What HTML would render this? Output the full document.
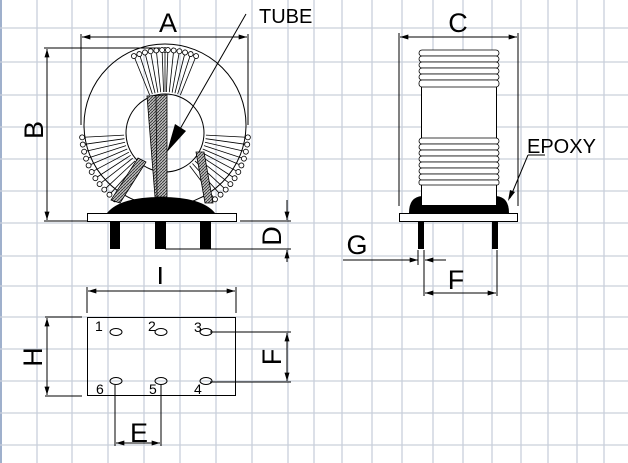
<!DOCTYPE html>
<html><head><meta charset="utf-8"><style>
html,body{margin:0;padding:0;background:#fff;}
svg{display:block;}
text{font-family:"Liberation Sans",Arial,sans-serif;fill:#000;}
</style></head><body>
<svg width="628" height="463" viewBox="0 0 628 463" xmlns="http://www.w3.org/2000/svg">
<defs>
<pattern id="h" width="3" height="3" patternUnits="userSpaceOnUse">
<rect width="3" height="3" fill="#bbb"/><path d="M0 3L3 0" stroke="#333" stroke-width="0.9"/>
</pattern>
<marker id="ar" viewBox="0 0 10 6" refX="10" refY="3" markerWidth="10" markerHeight="5" orient="auto-start-reverse" markerUnits="userSpaceOnUse"><path d="M0 0L10 3L0 6z" fill="#000"/></marker>
</defs>
<rect width="628" height="463" fill="#fff"/>
<g stroke="#c9d0db" stroke-width="1.3">
<line x1="1" y1="0" x2="1" y2="463" stroke="#9fb0cc" stroke-width="2"/>
<line x1="37" y1="0" x2="37" y2="463"/><line x1="72" y1="0" x2="72" y2="463"/><line x1="108" y1="0" x2="108" y2="463"/><line x1="144" y1="0" x2="144" y2="463"/><line x1="180" y1="0" x2="180" y2="463"/><line x1="216" y1="0" x2="216" y2="463"/><line x1="252" y1="0" x2="252" y2="463"/><line x1="288" y1="0" x2="288" y2="463"/><line x1="314" y1="0" x2="314" y2="463"/><line x1="342" y1="0" x2="342" y2="463"/><line x1="372" y1="0" x2="372" y2="463"/><line x1="402" y1="0" x2="402" y2="463"/><line x1="433" y1="0" x2="433" y2="463"/><line x1="463" y1="0" x2="463" y2="463"/><line x1="492" y1="0" x2="492" y2="463"/><line x1="521" y1="0" x2="521" y2="463"/><line x1="548" y1="0" x2="548" y2="463"/><line x1="577" y1="0" x2="577" y2="463"/><line x1="604" y1="0" x2="604" y2="463"/>
<line x1="0" y1="28" x2="628" y2="28"/><line x1="0" y1="62" x2="628" y2="62"/><line x1="0" y1="95" x2="628" y2="95"/><line x1="0" y1="127" x2="628" y2="127"/><line x1="0" y1="159" x2="628" y2="159"/><line x1="0" y1="191" x2="628" y2="191"/><line x1="0" y1="223" x2="628" y2="223"/><line x1="0" y1="256" x2="628" y2="256"/><line x1="0" y1="286" x2="628" y2="286"/><line x1="0" y1="317" x2="628" y2="317"/><line x1="0" y1="349" x2="628" y2="349"/><line x1="0" y1="381" x2="628" y2="381"/><line x1="0" y1="413" x2="628" y2="413"/><line x1="0" y1="445" x2="628" y2="445"/>
</g>

<g stroke="#000" fill="none" stroke-width="1">
<line x1="81" y1="34" x2="81" y2="125"/><line x1="248" y1="34" x2="248" y2="125"/>
<line x1="82" y1="37" x2="247" y2="37" marker-start="url(#ar)" marker-end="url(#ar)"/>
<line x1="44" y1="48" x2="160" y2="48"/><line x1="44" y1="221" x2="90" y2="221"/>
<line x1="47" y1="49" x2="47" y2="220" marker-start="url(#ar)" marker-end="url(#ar)"/>
<circle cx="165" cy="125" r="81"/>
<circle cx="165" cy="133" r="39"/>
</g>
<g stroke="#000" stroke-width="0.8" fill="#fff">
<g id="wt">
<line x1="165" y1="92" x2="165" y2="49"/><circle cx="165" cy="50" r="2.5"/>
</g>
<use href="#wt" transform="rotate(-22 165 133)"/><use href="#wt" transform="rotate(-18 165 133)"/><use href="#wt" transform="rotate(-14 165 133)"/><use href="#wt" transform="rotate(-10 165 133)"/><use href="#wt" transform="rotate(-6 165 133)"/><use href="#wt" transform="rotate(-2 165 133)"/><use href="#wt" transform="rotate(2 165 133)"/><use href="#wt" transform="rotate(6 165 133)"/><use href="#wt" transform="rotate(10 165 133)"/><use href="#wt" transform="rotate(14 165 133)"/><use href="#wt" transform="rotate(18 165 133)"/><use href="#wt" transform="rotate(22 165 133)"/>
<use href="#wt" transform="rotate(-93 165 133)"/><use href="#wt" transform="rotate(-98 165 133)"/><use href="#wt" transform="rotate(-103 165 133)"/><use href="#wt" transform="rotate(-108 165 133)"/><use href="#wt" transform="rotate(-113 165 133)"/><use href="#wt" transform="rotate(-118 165 133)"/><use href="#wt" transform="rotate(-123 165 133)"/><use href="#wt" transform="rotate(-128 165 133)"/><use href="#wt" transform="rotate(-133 165 133)"/><use href="#wt" transform="rotate(-138 165 133)"/><use href="#wt" transform="rotate(-143 165 133)"/>
<use href="#wt" transform="rotate(93 165 133)"/><use href="#wt" transform="rotate(98 165 133)"/><use href="#wt" transform="rotate(103 165 133)"/><use href="#wt" transform="rotate(108 165 133)"/><use href="#wt" transform="rotate(113 165 133)"/><use href="#wt" transform="rotate(118 165 133)"/><use href="#wt" transform="rotate(123 165 133)"/><use href="#wt" transform="rotate(128 165 133)"/><use href="#wt" transform="rotate(133 165 133)"/><use href="#wt" transform="rotate(138 165 133)"/><use href="#wt" transform="rotate(143 165 133)"/>
</g>
<g stroke="#000" stroke-width="0.8" fill="url(#h)">
<polygon points="147,96 167,95 167,197 155,197"/>
<line x1="156" y1="96" x2="157" y2="197"/>
<polygon points="138,158 146,162 120,203 111,200"/>
<polygon points="196,152 204,152 213,203 205,203"/>
</g>
<line x1="246" y1="14" x2="168" y2="150" stroke="#000" stroke-width="1"/>
<polygon points="167,152 175,124 186,131" fill="#000"/>
<path d="M107 213 Q120 197 161 197 Q202 197 215 213 Z" fill="#000"/>
<rect x="87.5" y="213.5" width="149" height="8" fill="#fff" stroke="#000"/>
<rect x="110" y="222" width="10" height="27" fill="#000"/>
<rect x="155" y="222" width="11" height="27" fill="#000"/>
<rect x="200" y="222" width="11" height="27" fill="#000"/>
<g stroke="#000" stroke-width="1">
<line x1="240" y1="221" x2="291" y2="221"/><line x1="165" y1="249" x2="291" y2="249"/>
<line x1="287" y1="200" x2="287" y2="220" marker-end="url(#ar)"/>
<line x1="287" y1="262" x2="287" y2="250" marker-end="url(#ar)"/>
</g>

<g stroke="#000" stroke-width="1" fill="none">
<line x1="399" y1="33" x2="399" y2="206"/><line x1="518" y1="33" x2="518" y2="206"/>
<line x1="400" y1="37" x2="517" y2="37" marker-start="url(#ar)" marker-end="url(#ar)"/>
</g>
<path d="M409 213 Q409 197 422 196 L496 196 Q509 197 509 213 Z" fill="#000"/>
<rect x="421.5" y="50.5" width="75" height="155" fill="#fff" stroke="#000"/>
<g stroke="#000" stroke-width="0.8" fill="#fff">
<rect x="419" y="50" width="80" height="6" rx="3"/><rect x="419" y="56" width="80" height="6" rx="3"/><rect x="419" y="62" width="80" height="6" rx="3"/><rect x="419" y="68" width="80" height="6" rx="3"/><rect x="419" y="74" width="80" height="6" rx="3"/><rect x="419" y="80" width="80" height="7" rx="3"/>
<rect x="419" y="138" width="80" height="6" rx="3"/><rect x="419" y="144" width="80" height="6" rx="3"/><rect x="419" y="150" width="80" height="6" rx="3"/><rect x="419" y="156" width="80" height="6" rx="3"/><rect x="419" y="162" width="80" height="6" rx="3"/><rect x="419" y="168" width="80" height="6" rx="3"/><rect x="419" y="174" width="80" height="6" rx="3"/><rect x="419" y="180" width="80" height="5" rx="2"/>
</g>
<rect x="421" y="205" width="76" height="8" fill="#000"/>
<rect x="399.5" y="213.5" width="118" height="8" fill="#fff" stroke="#000"/>
<rect x="418" y="222" width="6" height="27" fill="#000"/>
<rect x="492" y="222" width="6" height="27" fill="#000"/>
<text x="527" y="153" font-size="20">EPOXY</text>
<g stroke="#000" stroke-width="1">
<line x1="528" y1="155" x2="545" y2="155"/>
<line x1="528" y1="155" x2="510" y2="198"/>
</g>
<polygon points="508,201 510,190 515,192" fill="#000"/>
<g stroke="#000" stroke-width="1">
<line x1="343" y1="260" x2="418" y2="260" marker-end="url(#ar)"/>
<line x1="446" y1="260" x2="425" y2="260" marker-end="url(#ar)"/>
<line x1="418" y1="250" x2="418" y2="265"/><line x1="424" y1="250" x2="424" y2="296"/>
<line x1="497" y1="250" x2="497" y2="296"/>
<line x1="425" y1="293" x2="496" y2="293" marker-start="url(#ar)" marker-end="url(#ar)"/>
</g>

<g stroke="#000" stroke-width="1" fill="none">
<line x1="87" y1="287" x2="87" y2="313"/><line x1="236" y1="287" x2="236" y2="313"/>
<line x1="88" y1="291" x2="235" y2="291" marker-start="url(#ar)" marker-end="url(#ar)"/>
<rect x="87.5" y="317.5" width="148" height="78"/>
<line x1="45" y1="317" x2="82" y2="317"/><line x1="45" y1="396" x2="82" y2="396"/>
<line x1="47" y1="318" x2="47" y2="395" marker-start="url(#ar)" marker-end="url(#ar)"/>
<ellipse cx="116" cy="332" rx="6" ry="3.5"/><ellipse cx="161" cy="332" rx="6" ry="3.5"/><ellipse cx="206" cy="332" rx="6" ry="3.5"/>
<ellipse cx="116" cy="381" rx="6" ry="3.5"/><ellipse cx="161" cy="381" rx="6" ry="3.5"/><ellipse cx="206" cy="381" rx="6" ry="3.5"/>
<line x1="210" y1="332" x2="291" y2="332"/><line x1="210" y1="382" x2="291" y2="382"/>
<line x1="287" y1="333" x2="287" y2="381" marker-start="url(#ar)" marker-end="url(#ar)"/>
<line x1="115" y1="385" x2="115" y2="446"/><line x1="161" y1="385" x2="161" y2="446"/>
<line x1="116" y1="443" x2="160" y2="443" marker-start="url(#ar)" marker-end="url(#ar)"/>
</g>
<g font-size="14">
<text x="95" y="331">1</text><text x="148" y="331">2</text><text x="194" y="332">3</text>
<text x="96" y="394">6</text><text x="149" y="394">5</text><text x="194" y="394">4</text>
</g>

<g font-size="27">
<text x="168" y="32" text-anchor="middle">A</text>
<text x="458" y="32" text-anchor="middle">C</text>
<text x="357" y="254" text-anchor="middle">G</text>
<text x="456" y="289" text-anchor="middle">F</text>
<text x="139" y="442" text-anchor="middle">E</text>
<text transform="translate(43,130) rotate(-90)" text-anchor="middle">B</text>
<text transform="translate(281,236) rotate(-90)" text-anchor="middle">D</text>
<text transform="translate(42,357) rotate(-90)" text-anchor="middle">H</text>
<text transform="translate(281,357) rotate(-90)" text-anchor="middle">F</text>
</g>
<rect x="159" y="267" width="2.5" height="17" fill="#000"/>
<text x="259" y="23" font-size="20">TUBE</text>
</svg>
</body></html>
